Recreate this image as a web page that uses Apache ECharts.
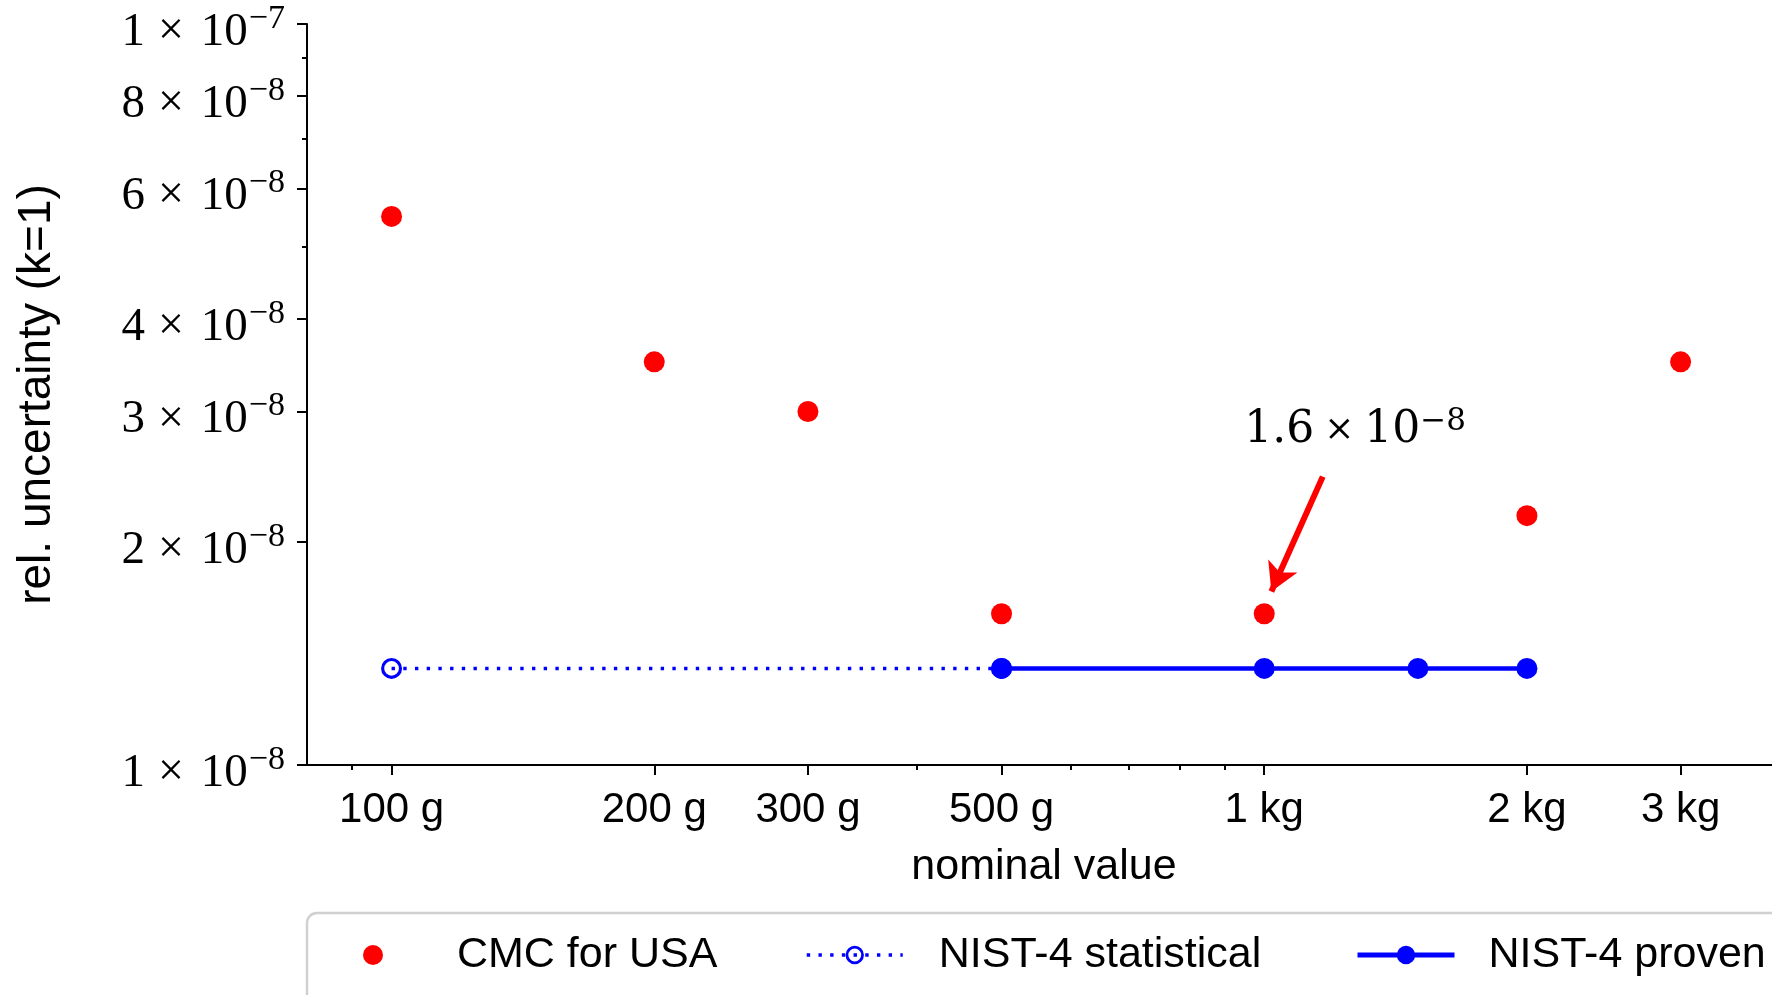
<!DOCTYPE html>
<html><head><meta charset="utf-8">
<script src="https://cdn.jsdelivr.net/npm/echarts@6/dist/echarts.min.js"></script>
<style>html,body{margin:0;padding:0;background:#fff}#c{width:1772px;height:995px}</style>
</head><body><div id="c"></div>
<script>
// ---- data ----
const cmcMass = [100, 200, 300, 500, 1000, 2000, 3000];
const cmcUnc = [5.5e-8, 3.5e-8, 3.0e-8, 1.6e-8, 1.6e-8, 2.17e-8, 3.5e-8];
const statMass = [100, 500];
const statUnc = [1.35e-8, 1.35e-8];
const provenMass = [500, 1000, 1500, 2000];
const provenUnc = [1.35e-8, 1.35e-8, 1.35e-8, 1.35e-8];
const xTickValues = [100, 200, 300, 500, 1000, 2000, 3000];
const xTickLabels = ['100 g', '200 g', '300 g', '500 g', '1 kg', '2 kg', '3 kg'];
const xMinorTicks = [90, 400, 600, 700, 800, 900];
const yTickValues = [1e-8, 2e-8, 3e-8, 4e-8, 6e-8, 8e-8, 1e-7];
const yMinorTicks = [5e-8, 7e-8, 9e-8];
const annotLabel = {mantissa: '1.6', exponent: '−8'};
const annotTextAt = [1271, 2.82e-8];
const annotArrowFrom = [1167, 2.45e-8];
const annotArrowTo = [1019, 1.714e-8];

const SANS = "'Liberation Sans', Arial, sans-serif";
const SERIF = "'Liberation Serif', 'Times New Roman', serif";
const ANNOT_SERIF = "'DejaVu Serif', serif";

function nearestIdx(arr, v) {
  let best = 0, bd = Infinity;
  arr.forEach((t, i) => { const d = Math.abs(Math.log(v / t)); if (d < bd) { bd = d; best = i; } });
  return best;
}
function sciRich(v) {
  const e = Math.floor(Math.log10(v) + 1e-9);
  const m = Math.round(v / Math.pow(10, e));
  return '{m|' + m + '}{x|×}{m|10}{s|−' + (-e) + '}';
}
const pairs = (xs, ys) => xs.map((x, i) => [x, ys[i]]);
const ring = 'path://M0,-10A10,10,0,1,1,0,10A10,10,0,1,1,0,-10ZM0,-7A7,7,0,1,0,0,7A7,7,0,1,0,0,-7Z';
const statDash = [3.4, 8.3];

const chart = echarts.init(document.getElementById('c'), null, {renderer: 'canvas'});
const axisCommon = {
  axisLine: {show: true, onZero: false, lineStyle: {color: '#000', width: 2}},
  splitLine: {show: false},
  minorTick: {show: false},
  minorSplitLine: {show: false}
};
chart.setOption({
  animation: false,
  backgroundColor: '#fff',
  grid: {left: 307, top: 24, right: -9, bottom: 230, outerBoundsMode: 'none', containLabel: false},
  xAxis: [
    Object.assign({}, axisCommon, {
      type: 'log', logBase: 10, min: 80, max: 3910, position: 'bottom',
      axisTick: {show: true, customValues: xTickValues, length: 10, lineStyle: {color: '#000', width: 2}},
      axisLabel: {
        show: true, customValues: xTickValues, margin: 22,
        formatter: v => xTickLabels[nearestIdx(xTickValues, v)],
        fontFamily: SANS, fontSize: 42, lineHeight: 46, color: '#000'
      },
      name: 'nominal value', nameLocation: 'middle', nameGap: 79,
      nameTextStyle: {fontFamily: SANS, fontSize: 43, lineHeight: 46, color: '#000'}
    }),
    Object.assign({}, axisCommon, {
      type: 'log', logBase: 10, min: 80, max: 3910, position: 'bottom',
      axisLine: {show: false},
      axisTick: {show: true, customValues: xMinorTicks, length: 5, lineStyle: {color: '#000', width: 2}},
      axisLabel: {show: false}
    })
  ],
  yAxis: [
    Object.assign({}, axisCommon, {
      type: 'log', logBase: 10, min: 1e-8, max: 1e-7, position: 'left',
      axisTick: {show: true, customValues: yTickValues, length: 10, lineStyle: {color: '#000', width: 2}},
      axisLabel: {
        show: true, customValues: yTickValues, margin: 22, formatter: sciRich, color: '#000',
        rich: {
          m: {fontFamily: SERIF, fontSize: 47, lineHeight: 60, padding: [15, 0, 0, 0], verticalAlign: 'top', color: '#000'},
          x: {fontFamily: SERIF, fontSize: 46, lineHeight: 60, padding: [15, 17, 0, 13], verticalAlign: 'top', color: '#000'},
          s: {fontFamily: SERIF, fontSize: 34, lineHeight: 34, padding: [8, 0, 0, 1], verticalAlign: 'top', color: '#000'}
        }
      },
      name: 'rel. uncertainty (k=1)', nameLocation: 'middle', nameGap: 247, nameRotate: 90,
      nameTextStyle: {fontFamily: SANS, fontSize: 46, lineHeight: 46, color: '#000'}
    }),
    Object.assign({}, axisCommon, {
      type: 'log', logBase: 10, min: 1e-8, max: 1e-7, position: 'left',
      axisLine: {show: false},
      axisTick: {show: true, customValues: yMinorTicks, length: 5, lineStyle: {color: '#000', width: 2}},
      axisLabel: {show: false}
    })
  ],
  legend: [
    {data: [{name: 'CMC for USA', icon: 'circle'}], left: 363, top: 930, padding: 0, itemWidth: 20, itemHeight: 20,
     textStyle: {fontFamily: SANS, fontSize: 43, lineHeight: 50, color: '#000', padding: [0, 0, 0, 69]}, selectedMode: false},
    {data: ['NIST-4 statistical'], left: 805, top: 930, padding: 0, itemWidth: 96, itemHeight: 23,
     lineStyle: {width: 3.5, type: statDash},
     textStyle: {fontFamily: SANS, fontSize: 43, lineHeight: 50, color: '#000', padding: [0, 0, 0, 31]}, selectedMode: false},
    {data: ['NIST-4 proven'], left: 1355, top: 930, padding: 0, itemWidth: 97, itemHeight: 23,
     lineStyle: {width: 5},
     textStyle: {fontFamily: SANS, fontSize: 43, lineHeight: 50, color: '#000', padding: [0, 0, 0, 29]}, selectedMode: false}
  ],
  graphic: [{
    type: 'rect', z: -1, silent: true,
    shape: {x: 307, y: 913, width: 1600, height: 200, r: 10},
    style: {fill: '#fff', stroke: '#d0d0d0', lineWidth: 2.5}
  }],
  series: [
    {
      name: 'NIST-4 statistical', type: 'line', data: pairs(statMass, statUnc),
      symbol: ring, symbolSize: 21, showAllSymbol: true,
      lineStyle: {color: '#0000ff', width: 3.5, type: statDash, cap: 'butt'},
      itemStyle: {color: '#0000ff', opacity: 1}, z: 2
    },
    {
      name: 'NIST-4 proven', type: 'line', data: pairs(provenMass, provenUnc),
      symbol: 'circle', symbolSize: 21, showAllSymbol: true,
      lineStyle: {color: '#0000ff', width: 4.5},
      itemStyle: {color: '#0000ff', opacity: 1}, z: 3
    },
    {
      name: 'CMC for USA', type: 'scatter', data: pairs(cmcMass, cmcUnc),
      symbol: 'circle', symbolSize: 21, symbolKeepAspect: true,
      itemStyle: {color: '#ff0000', opacity: 1}, z: 4,
      markLine: {
        silent: true, animation: false, symbol: ['none', 'arrow'], symbolSize: [24, 28],
        lineStyle: {color: '#ff0000', width: 6, type: 'solid', opacity: 1},
        label: {show: false},
        data: [[{coord: annotArrowFrom}, {coord: annotArrowTo}]]
      },
      markPoint: {
        silent: true, symbol: 'circle', symbolSize: 1, itemStyle: {color: 'rgba(0,0,0,0)'},
        label: {
          show: true, position: 'inside', color: '#000',
          formatter: () => '{a|' + annotLabel.mantissa + '}{x|×}{a|10}{s|' + annotLabel.exponent + '}',
          rich: {
            a: {fontFamily: ANNOT_SERIF, fontSize: 44, lineHeight: 50, padding: [2, 0, 0, 0], verticalAlign: 'top', color: '#000'},
            x: {fontFamily: ANNOT_SERIF, fontSize: 36, lineHeight: 50, padding: [6, 10, 0, 10], verticalAlign: 'top', color: '#000'},
            s: {fontFamily: ANNOT_SERIF, fontSize: 31, lineHeight: 31, padding: [0, 0, 0, 0], verticalAlign: 'top', color: '#000'}
          }
        },
        data: [{coord: annotTextAt}]
      }
    }
  ]
});
</script>
</body></html>
